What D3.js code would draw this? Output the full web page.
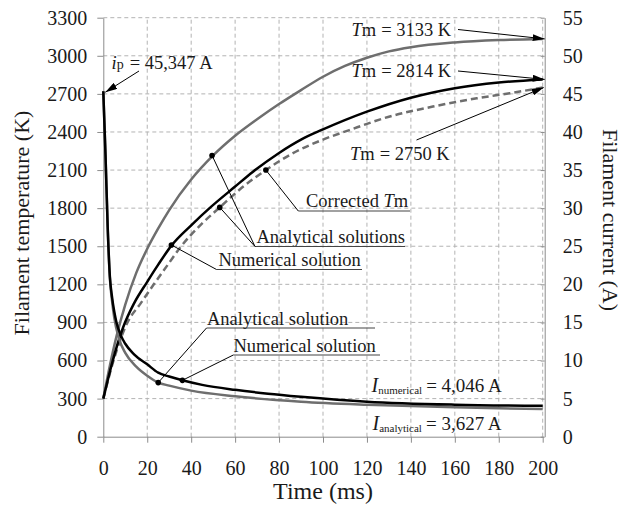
<!DOCTYPE html>
<html>
<head>
<script type="text/javascript" src="https://cdnjs.cloudflare.com/ajax/libs/d3/7.8.5/d3.min.js"></script>
<title>Filament temperature and current</title>
<style>
body { margin:0; background:#fff; }
text { font-family:"Liberation Serif","Times New Roman","DejaVu Serif",serif; fill:#1a1a1a; }
</style>
</head>
<body>
<div id="chart"></div>
<script type="text/javascript">
// tick values
var timeTicks = [0,20,40,60,80,100,120,140,160,180,200];
var tempTicks = [0,300,600,900,1200,1500,1800,2100,2400,2700,3000,3300];
var currTicks = [0,5,10,15,20,25,30,35,40,45,50,55];

// temperature, analytical (Tm = 3133 K)
var tAnaT = [0,3,6,10,15,20,25,30,40,50,60,70,80,90,100,110,120,130,140,160,180,200];
var anaT  = [300,560,790,1040,1290,1480,1640,1785,2025,2215,2370,2500,2620,2730,2835,2920,2985,3035,3068,3105,3124,3133];
// temperature, numerical (Tm = 2814 K)
var tNumT = [0,4,9,14,20,25,31,40,49,60,68,80,90,100,120,140,160,180,200];
var numT  = [300,580,860,1050,1220,1355,1505,1665,1810,1970,2085,2235,2340,2420,2560,2670,2745,2790,2814];
// temperature, corrected Tm (2750 K)
var tCorT = [0,5,11,17,23,30,35,45,53,63,74,86,100,112,130,150,170,185,200];
var corT  = [300,620,900,1050,1200,1370,1490,1680,1806,1960,2100,2230,2340,2415,2520,2600,2665,2705,2750];
// current, numerical
var tNumI = [0,1,2,3,4,5,6,8,10,14,20,25,30,36,45,60,75,90,120,160,200];
var numI  = [45.35,37,27.5,21,18.3,16.4,15,13.3,12.2,10.8,9.5,8.4,7.9,7.4,6.8,6.15,5.65,5.25,4.6,4.2,4.05];
// current, analytical
var tAnaI = [0,1,2,3,4,5,7,10,15,20,25,30,40,60,90,120,160,200];
var anaI  = [45.35,37,27.5,20.8,17.8,15.6,13,11,9.2,8,7.1,6.7,6.05,5.3,4.6,4.2,3.85,3.63];

var w = 622, h = 506;
var x  = d3.scaleLinear().domain([0,200]).range([103.3,542.7]);
var yT = d3.scaleLinear().domain([0,3300]).range([436.7,17.7]);
var yI = d3.scaleLinear().domain([0,55]).range([436.7,17.7]);
var serif = '"Liberation Serif","Times New Roman","DejaVu Serif",serif';

var svg = d3.select("#chart").append("svg")
    .attr("width", w).attr("height", h);

svg.append("defs").append("marker")
    .attr("id","arrow").attr("markerUnits","userSpaceOnUse")
    .attr("viewBox","0 0 12 7").attr("refX",12).attr("refY",3.5)
    .attr("markerWidth",12).attr("markerHeight",7).attr("orient","auto")
  .append("path").attr("d","M0,0L12,3.5L0,7Z").attr("fill","#000");

// grid
var grid = svg.append("g").attr("stroke","#b3b3b3").attr("stroke-dasharray","4,3");
grid.selectAll(".gh").data(tempTicks.slice(1)).enter().append("line")
    .attr("x1", x(0)).attr("x2", x(200))
    .attr("y1", function(d){ return yT(d); }).attr("y2", function(d){ return yT(d); });
grid.selectAll(".gv").data(timeTicks.slice(1)).enter().append("line")
    .attr("y1", yT(0)).attr("y2", yT(3300))
    .attr("x1", function(d){ return x(d); }).attr("x2", function(d){ return x(d); });

function styleAxis(g) {
  g.attr("font-family", serif).attr("font-size", 20);
  g.select(".domain").attr("stroke","#8c8c8c");
  g.selectAll(".tick line").attr("stroke","#8c8c8c");
  g.selectAll(".tick text").style("font-family", serif).style("font-size","20px").attr("fill","#1a1a1a");
}

svg.append("g").attr("transform","translate(" + x(0) + ",0)")
   .call(d3.axisLeft(yT).tickValues(tempTicks).tickFormat(d3.format("d"))
         .tickSizeInner(6).tickSizeOuter(0).tickPadding(10))
   .call(styleAxis);
svg.append("g").attr("transform","translate(0," + yT(0) + ")")
   .call(d3.axisBottom(x).tickValues(timeTicks).tickFormat(d3.format("d"))
         .tickSizeInner(6).tickSizeOuter(0).tickPadding(18))
   .call(styleAxis);
svg.append("g").attr("transform","translate(" + (x(200)+2) + ",0)")
   .call(d3.axisRight(yI).tickValues(currTicks).tickFormat(d3.format("d"))
         .tickSizeInner(-4).tickSizeOuter(0).tickPadding(18))
   .call(styleAxis);

// axis titles
svg.append("text").attr("transform","translate(29,223) rotate(-90)")
   .attr("text-anchor","middle").style("font-family", serif).style("font-size","22px")
   .text("Filament temperature (K)");
svg.append("text").attr("transform","translate(603,220) rotate(90)")
   .attr("text-anchor","middle").style("font-family", serif).style("font-size","22px")
   .text("Filament current (A)");
svg.append("text").attr("x", x(100)).attr("y", 499)
   .attr("text-anchor","middle").style("font-family", serif).style("font-size","24px")
   .text("Time (ms)");

// curves
var lineT = d3.line().x(function(d){ return x(d[0]); }).y(function(d){ return yT(d[1]); }).curve(d3.curveMonotoneX);
var lineI = d3.line().x(function(d){ return x(d[0]); }).y(function(d){ return yI(d[1]); }).curve(d3.curveMonotoneX);

svg.append("path").attr("d", lineT(d3.zip(tAnaT, anaT)))
   .attr("fill","none").attr("stroke","#6e6e6e").attr("stroke-width",2.5);
svg.append("path").attr("d", lineT(d3.zip(tCorT, corT)))
   .attr("fill","none").attr("stroke","#6e6e6e").attr("stroke-width",2.5).attr("stroke-dasharray","7,4");
svg.append("path").attr("d", lineT(d3.zip(tNumT, numT)))
   .attr("fill","none").attr("stroke","#000").attr("stroke-width",2.5);
svg.append("path").attr("d", lineI(d3.zip(tAnaI, anaI)))
   .attr("fill","none").attr("stroke","#6e6e6e").attr("stroke-width",2.5);
svg.append("path").attr("d", lineI(d3.zip(tNumI, numI)))
   .attr("fill","none").attr("stroke","#000").attr("stroke-width",2.5);

// rich text helper: parts = [text, {italic, size, dy, dx}]
function rich(px, py, parts, size) {
  var t = svg.append("text").attr("x", px).attr("y", py)
      .style("font-family", serif).style("font-size", size + "px");
  parts.forEach(function(p) {
    var o = p[1] || {};
    var s = t.append("tspan").text(p[0]);
    if (o.italic) s.style("font-style","italic");
    if (o.size) s.style("font-size", o.size + "px");
    if (o.dy) s.attr("dy", o.dy);
    if (o.dx) s.attr("dx", o.dx);
  });
  return t;
}

// labels with underline and leader lines to dots on curves
var notes = [
  { parts:[["Corrected "],["T",{italic:true}],["m"]], tx:306, ty:207, ux1:298.3, ux2:410, uy:211,
    dots:[[74,2100,"T"]] },
  { parts:[["Analytical solutions"]], tx:256.5, ty:242.5, ux1:255, ux2:405, uy:246.5,
    dots:[[49.5,2215,"T"],[53,1806,"T"]] },
  { parts:[["Numerical solution"]], tx:218.5, ty:266, ux1:216.5, ux2:362, uy:269.5,
    dots:[[31,1510,"T"]] },
  { parts:[["Analytical solution"]], tx:207, ty:325, ux1:206.5, ux2:375, uy:328,
    dots:[[25,7.1,"I"]] },
  { parts:[["Numerical solution"]], tx:233.5, ty:351.5, ux1:233.3, ux2:380, uy:355,
    dots:[[36,7.4,"I"]] }
];
notes.forEach(function(n) {
  rich(n.tx, n.ty, n.parts, 18.5);
  svg.append("line").attr("x1", n.ux1).attr("x2", n.ux2).attr("y1", n.uy).attr("y2", n.uy)
     .attr("stroke","#444").attr("stroke-width",1.2);
  n.dots.forEach(function(d) {
    var py = d[2] == "T" ? yT(d[1]) : yI(d[1]);
    svg.append("line").attr("x1", n.ux1).attr("y1", n.uy).attr("x2", x(d[0])).attr("y2", py)
       .attr("stroke","#000").attr("stroke-width",1);
    svg.append("circle").attr("cx", x(d[0])).attr("cy", py).attr("r",2.8).attr("fill","#000");
  });
});

// arrow annotations
rich(111.5, 68.5, [["i",{italic:true}],["p",{size:14}],["= 45,347 A",{dx:6}]], 18.5);
svg.append("line").attr("x1",139).attr("y1",71).attr("x2",x(0)+2).attr("y2",yI(45.35)+1)
   .attr("stroke","#000").attr("stroke-width",1).attr("marker-end","url(#arrow)");

rich(351.5, 35.5, [["T",{italic:true}],["m"],["= 3133 K",{dx:5}]], 18.5);
svg.append("line").attr("x1",458).attr("y1",29.5).attr("x2",x(200)+2).attr("y2",yT(3133))
   .attr("stroke","#000").attr("stroke-width",1).attr("marker-end","url(#arrow)");

rich(351.5, 76.5, [["T",{italic:true}],["m"],["= 2814 K",{dx:5}]], 18.5);
svg.append("line").attr("x1",458).attr("y1",71).attr("x2",x(200)+2).attr("y2",yT(2814))
   .attr("stroke","#000").attr("stroke-width",1).attr("marker-end","url(#arrow)");

rich(350, 159.5, [["T",{italic:true}],["m"],["= 2750 K",{dx:5}]], 18.5);
svg.append("line").attr("x1",416.5).attr("y1",140).attr("x2",x(200)+1).attr("y2",yT(2750))
   .attr("stroke","#000").attr("stroke-width",1).attr("marker-end","url(#arrow)");

rich(371.5, 391.5, [["I",{italic:true,size:20}],["numerical",{size:11,dy:2}],["= 4,046 A",{dx:4,dy:-2}]], 19);
rich(372.5, 430, [["I",{italic:true,size:20}],["analytical",{size:11,dy:2}],["= 3,627 A",{dx:4,dy:-2}]], 19);
</script>
</body>
</html>
